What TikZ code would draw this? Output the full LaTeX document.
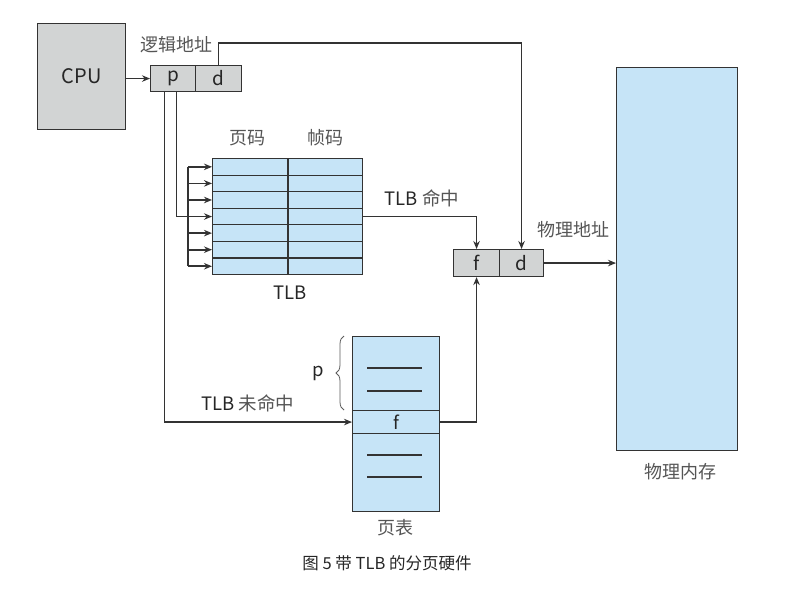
\documentclass[tikz,border=0pt]{standalone}
\usepackage{fontspec}
\setmainfont{Noto Sans CJK SC}
\usetikzlibrary{arrows.meta,decorations.pathreplacing}
\definecolor{lblue}{HTML}{C6E4F7}
\definecolor{lgray}{HTML}{D2D4D4}
\definecolor{linec}{HTML}{333333}
\definecolor{txtc}{HTML}{262626}
\definecolor{cjkc}{HTML}{555555}
\begin{document}
\begin{tikzpicture}[x=1pt,y=-1pt,
  box/.style={draw=linec, line width=1.1pt, inner sep=0pt, anchor=north west},
  arr/.style={draw=linec, line width=1.7pt, -{Stealth[length=8pt,width=6.5pt]}},
  ln/.style={draw=linec, line width=1.7pt},
  lbl/.style={text=cjkc, font=\fontsize{18}{20}\selectfont, inner sep=0pt},
  lbla/.style={text=txtc, font=\fontsize{18.5}{20}\selectfont, inner sep=0pt},
  seg/.style={draw=linec, line width=1.1pt}
]
\useasboundingbox[fill=white] (0,0) rectangle (807,590);
% CPU
\node[box, fill=lgray, minimum width=88pt, minimum height=106pt, font=\fontsize{20}{22}\selectfont, text=txtc] (cpu) at (37,23) {CPU};
% logical address
\node[box, fill=lgray, minimum width=45pt, minimum height=26pt, font=\fontsize{19}{20}\selectfont, text=txtc] (p) at (150,65) {p};
\node[box, fill=lgray, minimum width=46pt, minimum height=26pt, font=\fontsize{19}{20}\selectfont, text=txtc] (d) at (195,65) {d};
% physical address
\node[box, fill=lgray, minimum width=46pt, minimum height=27pt, font=\fontsize{19}{20}\selectfont, text=txtc] (pf) at (453,249) {f};
\node[box, fill=lgray, minimum width=44pt, minimum height=27pt, font=\fontsize{19}{20}\selectfont, text=txtc] (pd) at (499,249) {d};
% memory
\node[box, fill=lblue, minimum width=121pt, minimum height=383pt] (mem) at (616,67) {};
% TLB rows
\foreach \i in {1,...,7} {
  \node[box, fill=lblue, minimum width=150pt, minimum height=16.57pt] (t\i) at (212,{158+(\i-1)*16.57}) {};
}
\draw[seg] (288,158) -- (288,274);
% page table
\node[box, fill=lblue, minimum width=87pt, minimum height=74pt] (ptu) at (352,336) {};
\node[box, fill=lblue, minimum width=87pt, minimum height=23pt, font=\fontsize{18}{20}\selectfont, text=txtc] (ptf) at (352,410) {f};
\node[box, fill=lblue, minimum width=87pt, minimum height=78pt] (ptl) at (352,433) {};
\draw[seg] (367,368) -- (422,368);
\draw[seg] (367,391) -- (422,391);
\draw[seg] (367,455) -- (422,455);
\draw[seg] (367,477) -- (422,477);
% connectors
\draw[arr] (cpu.east |- p.west) -- (p.west);
\draw[arr] (d.north) -- ++(0,-22) -| (pd.north);
\draw[arr] ([xshift=-8.5pt]p.south) |- (ptf.west);
\draw[arr] ([xshift=3.5pt]p.south) |- (t4.west);
\coordinate (bus) at (188,0);
\draw[ln] (bus |- t1.west) -- (bus |- t7.west);
\foreach \i in {1,2,3,5,6,7} {
  \draw[arr] (bus |- t\i.west) -- (t\i.west);
}
\draw[arr] (t4.east) -| (pf.north);
\draw[arr] (ptf.east) -| (pf.south);
\draw[arr] (pd.east) -- (pd.east -| mem.west);
% brace
\draw[linec!80, line width=0.8pt, decorate, decoration={brace, amplitude=8pt}] (344,410) -- (344,336);
% labels
\node[lbl] (l1) at (176,45) {逻辑地址};
\node[lbl] (l2) at (247,138) {页码};
\node[lbl] (l3) at (325,138) {帧码};
\node[lbla] (l4) at (290,293) {TLB};
\node[lbla] (l5) at (422,198) {TLB \textcolor{cjkc}{命中}};
\node[lbl] (l6) at (573,230) {物理地址};
\node[lbla] (l7) at (248,403) {TLB \textcolor{cjkc}{未命中}};
\node[lbla] (l8) at (318,373) {p};
\node[lbl] (l9) at (395,528) {页表};
\node[lbl] (l10) at (680,472) {物理内存};
\node[text=txtc, font=\fontsize{16.5}{18}\selectfont, inner sep=0pt] (cap) at (387,563) {图 5 带 TLB 的分页硬件};
\end{tikzpicture}
\end{document}
